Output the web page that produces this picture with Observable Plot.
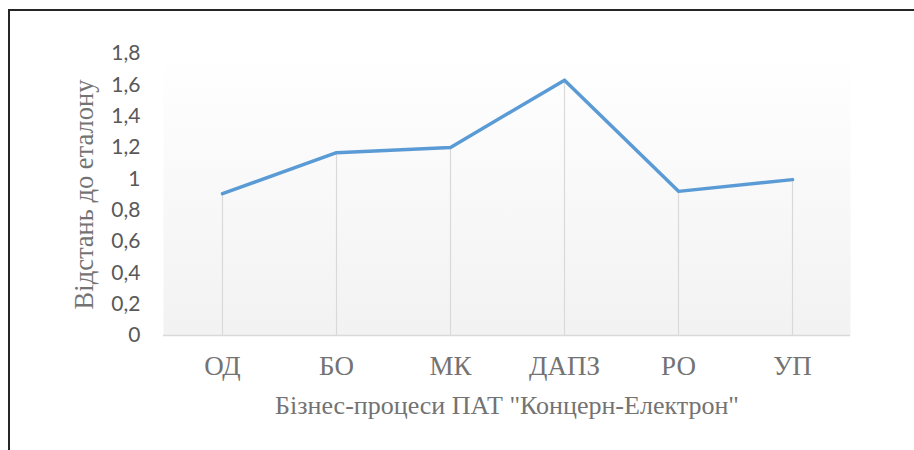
<!DOCTYPE html>
<html>
<head>
<meta charset="utf-8">
<script src="https://cdn.jsdelivr.net/npm/d3@7"></script>
<script src="https://cdn.jsdelivr.net/npm/@observablehq/plot@0.6"></script>
<style>
  html, body { margin: 0; padding: 0; background: #fff; overflow: hidden; }
  #wrap { position: relative; width: 914px; height: 450px; }
  #border { position: absolute; left: 8px; top: 9px; width: 1200px; height: 1200px;
            border-left: 2px solid #262626; border-top: 2px solid #262626; pointer-events: none; }
  #chart { position: absolute; left: 0; top: 0; }
</style>
</head>
<body>
<div id="wrap"><div id="chart"></div><div id="border"></div></div>
<script>
const categories = ["ОД", "БО", "МК", "ДАПЗ", "РО", "УП"];
const values = [0.905, 1.167, 1.2, 1.63, 0.92, 0.995];
const yTicks = [0, 0.2, 0.4, 0.6, 0.8, 1, 1.2, 1.4, 1.6, 1.8];
const xTitle = "Бізнес-процеси ПАТ \"Концерн-Електрон\"";
const yTitle = "Відстань до еталону";

const data = categories.map((c, i) => ({ cat: c, v: values[i] }));
const serif = "'Liberation Serif', 'DejaVu Serif', serif";
const sans = "Lato, 'Open Sans', sans-serif";

const fmt = d => String(+d.toFixed(1)).replace(".", ",");

const plot = Plot.plot({
  width: 914,
  height: 450,
  marginLeft: 163,
  marginRight: 64,
  marginTop: 53,
  marginBottom: 115,
  x: { type: "band", domain: categories, padding: 0 },
  y: { domain: [0, 1.8] },
  marks: [
    Plot.frame({ fill: "url(#plotbg)", stroke: "none" }),
    Plot.ruleX(data, { x: "cat", y1: 0, y2: "v", stroke: "#d9d9d9", strokeWidth: 1.2 }),
    Plot.ruleY([0], { stroke: "#d9d9d9", strokeWidth: 1.5 }),
    Plot.axisY({
      ticks: yTicks, tickFormat: fmt, tickSize: 0, tickPadding: 23,
      fontFamily: sans, fontSize: 21, fill: "#595959", label: null
    }),
    Plot.axisY({
      ticks: [], tickSize: 0, fontFamily: serif, fontSize: 26.5, fill: "#737373",
      label: yTitle, labelAnchor: "center", labelOffset: 89, labelArrow: "none"
    }),
    Plot.axisX({
      tickSize: 0, tickPadding: 20, fontFamily: serif, fontSize: 27, fill: "#737373", label: null
    }),
    Plot.axisX({
      ticks: [], tickSize: 0, fontFamily: serif, fontSize: 26, fill: "#737373",
      label: xTitle, labelAnchor: "center", labelOffset: 78, labelArrow: "none"
    }),
    Plot.line(data, { x: "cat", y: "v", stroke: "#5B9BD5", strokeWidth: 3.5, strokeLinecap: "round", strokeLinejoin: "round" })
  ]
});

// gradient definition for plot area background
const svg = d3.select(plot);
const defs = svg.insert("defs", ":first-child");
const grad = defs.append("linearGradient").attr("id", "plotbg")
  .attr("x1", 0).attr("y1", 0).attr("x2", 0).attr("y2", 1);
grad.append("stop").attr("offset", "0%").attr("stop-color", "#ffffff");
grad.append("stop").attr("offset", "100%").attr("stop-color", "#f2f2f2");

document.getElementById("chart").appendChild(plot);
</script>
</body>
</html>
